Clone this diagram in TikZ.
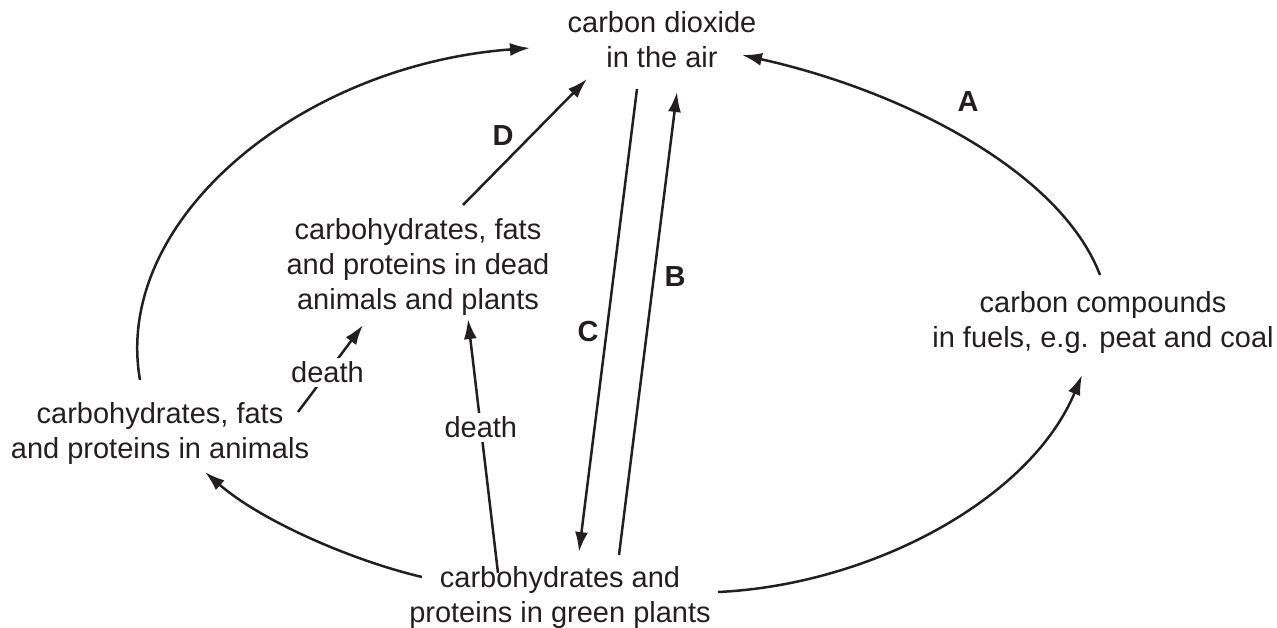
\documentclass[tikz,border=0pt]{standalone}
\usepackage{fontspec}
\setmainfont{Liberation Sans}
\usetikzlibrary{arrows.meta}
\definecolor{ink}{RGB}{35,31,32}
\begin{document}
\begin{tikzpicture}[x=1pt,y=-1pt,color=ink,
  txt/.style={align=center,inner sep=0pt,text=ink,font=\fontsize{29}{35}\selectfont},
  lbl/.style={inner sep=0pt,text=ink,font=\fontsize{29}{35}\selectfont\bfseries},
  cut/.style={txt,fill=white,inner sep=4pt},
  arr/.style={draw=ink,line width=2.5pt,-{Latex[length=20pt,width=13pt]}},
  ln/.style={draw=ink,line width=2.5pt}]
\useasboundingbox (0,0) rectangle (1277,628);
% text nodes
\node[txt] (co2) at (662,40) {carbon dioxide\\in the air};
\node[txt] (dead) at (418,267) {carbohydrates, fats\\and proteins in dead\\animals and plants};
\node[txt] (anim) at (160,434) {carbohydrates, fats\\and proteins in animals};
\node[txt] (plant) at (560,597) {carbohydrates and\\proteins in green plants};
\node[txt] (fuel) at (1103,323) {carbon compounds\\in fuels, e.g. peat and coal};
% letter labels
\node[lbl] (lA) at (968,102) {A};
\node[lbl] (lB) at (675,277) {B};
\node[lbl] (lC) at (588,332) {C};
\node[lbl] (lD) at (503,136) {D};
% connector end points
\coordinate (co2L) at (530,48);
\coordinate (co2R) at (742,55);
\coordinate (co2D) at (587,79);
\coordinate (co2C) at (637,89);
\coordinate (co2B) at (677,92);
\coordinate (deadD) at (463,205);
\coordinate (deadA) at (363,325);
\coordinate (deadP) at (468,319);
\coordinate (animT) at (140,380);
\coordinate (animB) at (205,472);
\coordinate (animD) at (298,412);
\coordinate (plantL) at (422,577);
\coordinate (plantR) at (718,592);
\coordinate (plantD) at (498,573);
\coordinate (plantC) at (579,552);
\coordinate (plantB) at (619,555);
\coordinate (fuelT) at (1100,275);
\coordinate (fuelB) at (1082,375);
% connectors
\draw[arr] (animT) .. controls (112,220) and (300,65) .. (co2L);
\draw[arr] (fuelT) .. controls (1060,170) and (900,90) .. (co2R);
\draw[arr] (plantL) .. controls (350,560) and (260,520) .. (animB);
\draw[arr] (plantR) .. controls (870,585) and (1030,500) .. (fuelB);
\draw[arr] (deadD) -- (co2D);
\draw[arr] (co2C) -- (plantC);
\draw[arr] (plantB) -- (co2B);
\draw[arr] (animD) -- node[cut,pos=0.454] (death1) {death} (deadA);
\draw[arr] (plantD) -- node[cut,pos=0.573] (death2) {death} (deadP);
\end{tikzpicture}
\end{document}
